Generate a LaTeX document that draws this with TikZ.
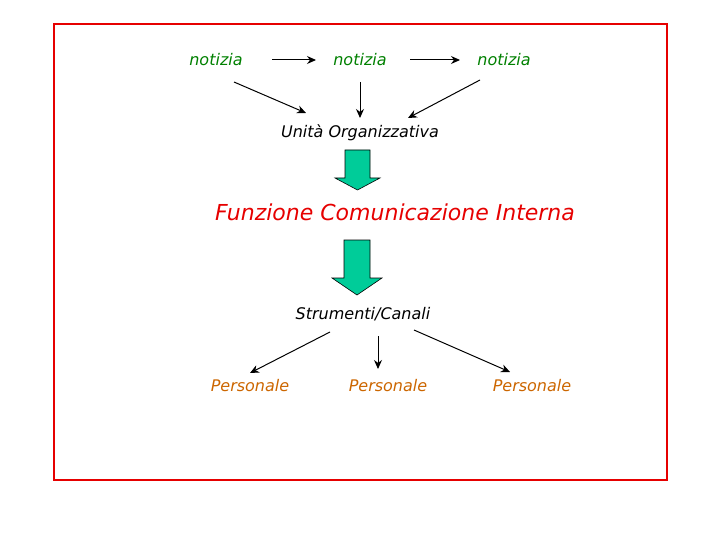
\documentclass[tikz,border=0pt]{standalone}
\usepackage{fontspec}
\setmainfont{DejaVu Sans}
\usetikzlibrary{arrows.meta}
\definecolor{ngreen}{RGB}{0,128,0}
\definecolor{nred}{RGB}{230,0,0}
\definecolor{norange}{RGB}{204,102,0}
\definecolor{bgreen}{RGB}{0,204,153}
\tikzset{
  lbl/.style={font=\fontsize{16}{19}\selectfont\itshape, inner sep=1pt},
  arr/.style={-{Stealth[length=9pt,width=8pt]}, line width=1pt},
  blockarrow/.style={fill=bgreen, draw=black, line width=0.6pt}
}
\begin{document}
\begin{tikzpicture}[x=1pt,y=-1pt]
\useasboundingbox (0,0) rectangle (720,540);
\draw[nred, line width=2.5pt] (54,24) rectangle (667,480);
\node[lbl, ngreen] (n1) at (216,60) {notizia};
\node[lbl, ngreen] (n2) at (360,60) {notizia};
\node[lbl, ngreen] (n3) at (504,60) {notizia};
\coordinate (a1s) at (272,60); \coordinate (a1e) at (316,60);
\coordinate (a2s) at (410,60); \coordinate (a2e) at (460,60);
\draw[arr] (a1s) -- (a1e);
\draw[arr] (a2s) -- (a2e);
\node[lbl] (u) at (360,133) {Unità Organizzativa};
\coordinate (d1) at (234,82); \coordinate (d1e) at (306,113);
\coordinate (d2) at (360,82); \coordinate (d2e) at (360,118);
\coordinate (d3) at (480,80); \coordinate (d3e) at (408,118);
\draw[arr] (d1) -- (d1e);
\draw[arr] (d2) -- (d2e);
\draw[arr] (d3) -- (d3e);
\draw[blockarrow] (345,150) -- (370,150) -- (370,178) -- (380,178) -- (357.5,190) -- (335,178) -- (345,178) -- cycle;
\node[lbl, nred, font=\fontsize{22}{26}\selectfont\itshape] (f) at (395,212) {Funzione Comunicazione Interna};
\draw[blockarrow] (344,240) -- (370,240) -- (370,278) -- (382,278) -- (357,295) -- (332,278) -- (344,278) -- cycle;
\node[lbl] (s) at (363,314) {Strumenti/Canali};
\node[lbl, norange] (p1) at (250,386) {Personale};
\node[lbl, norange] (p2) at (388,386) {Personale};
\node[lbl, norange] (p3) at (532,386) {Personale};
\coordinate (e1) at (330,332); \coordinate (e1e) at (250,373);
\coordinate (e2) at (378,336); \coordinate (e2e) at (378,369);
\coordinate (e3) at (414,330); \coordinate (e3e) at (510,372);
\draw[arr] (e1) -- (e1e);
\draw[arr] (e2) -- (e2e);
\draw[arr] (e3) -- (e3e);
\end{tikzpicture}
\end{document}
